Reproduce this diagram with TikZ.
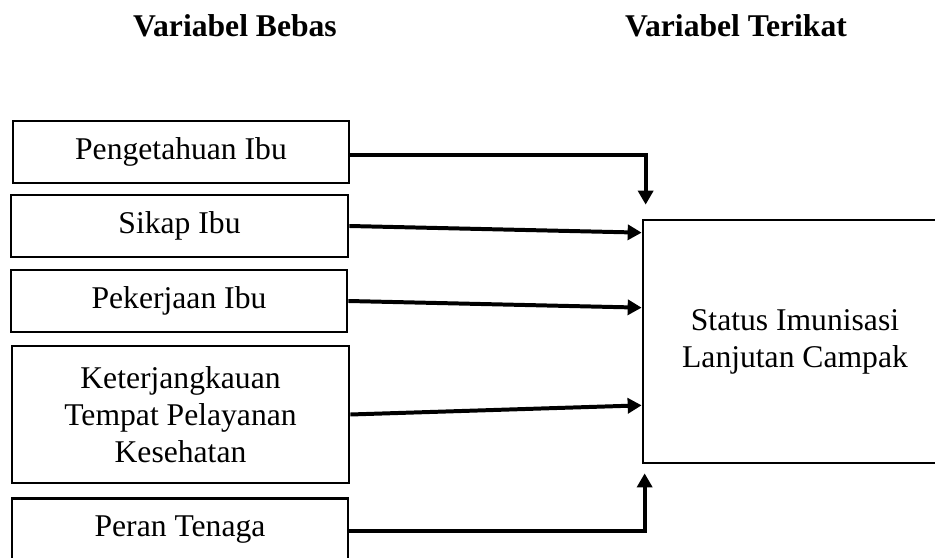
\documentclass[tikz,border=0pt]{standalone}
\usepackage{fontspec}
\setmainfont{Liberation Serif}
\usetikzlibrary{arrows.meta}

\begin{document}
\begin{tikzpicture}[
		every node/.style={font=\fontsize{27}{31.5}\selectfont},
		varbox/.style={draw, line width=2.3pt, inner sep=0pt, align=center,
			minimum width=10.08cm, minimum height=1.86cm},
		link/.style={line width=3.4pt, -{Triangle[length=0.42cm, width=0.45cm]}}
	]
		\useasboundingbox (0,0) rectangle (28.05,16.74);
		
		% Judul kolom
		\node[font=\fontsize{27}{31.5}\selectfont\bfseries, anchor=base] (bebas) at (7.05, 15.63) {Variabel Bebas};
		\node[font=\fontsize{27}{31.5}\selectfont\bfseries, anchor=base] (terikat) at (22.08, 15.63) {Variabel Terikat};
		
		% Variabel bebas
		\node[varbox] (tahu) at (5.43, 12.18) {Pengetahuan Ibu};
		\node[varbox, minimum width=10.11cm] (sikap) at (5.385, 9.96) {Sikap Ibu};
		\node[varbox] (kerja) at (5.37, 7.71) {Pekerjaan Ibu};
		\node[varbox, minimum width=10.11cm, minimum height=4.11cm] (jangkau) at (5.415, 4.305)
			{Keterjangkauan\\Tempat Pelayanan\\Kesehatan};
		\node[varbox, anchor=north, text height=1.14cm, text depth=1.3cm] (peran) at (5.4, 1.83) {Peran Tenaga};
		
		% Variabel terikat
		\node[varbox, minimum width=9.12cm, minimum height=7.29cm] (status) at (23.85, 6.495)
			{Status Imunisasi\\Lanjutan Campak};
		
		% Panah
		\draw[link] ([yshift=-0.09cm]tahu.east) -| ([xshift=0.12cm, yshift=0.42cm]status.north west);
		\draw[link] (sikap.east) -- ([yshift=-0.42cm]status.north west);
		\draw[link] (kerja.east) -- ([yshift=-2.67cm]status.north west);
		\draw[link] (jangkau.east) -- ([yshift=1.77cm]status.south west);
		\draw[link] ([yshift=-1.02cm]peran.north east) -| ([xshift=0.09cm, yshift=-0.27cm]status.south west);
	\end{tikzpicture}
\end{document}
